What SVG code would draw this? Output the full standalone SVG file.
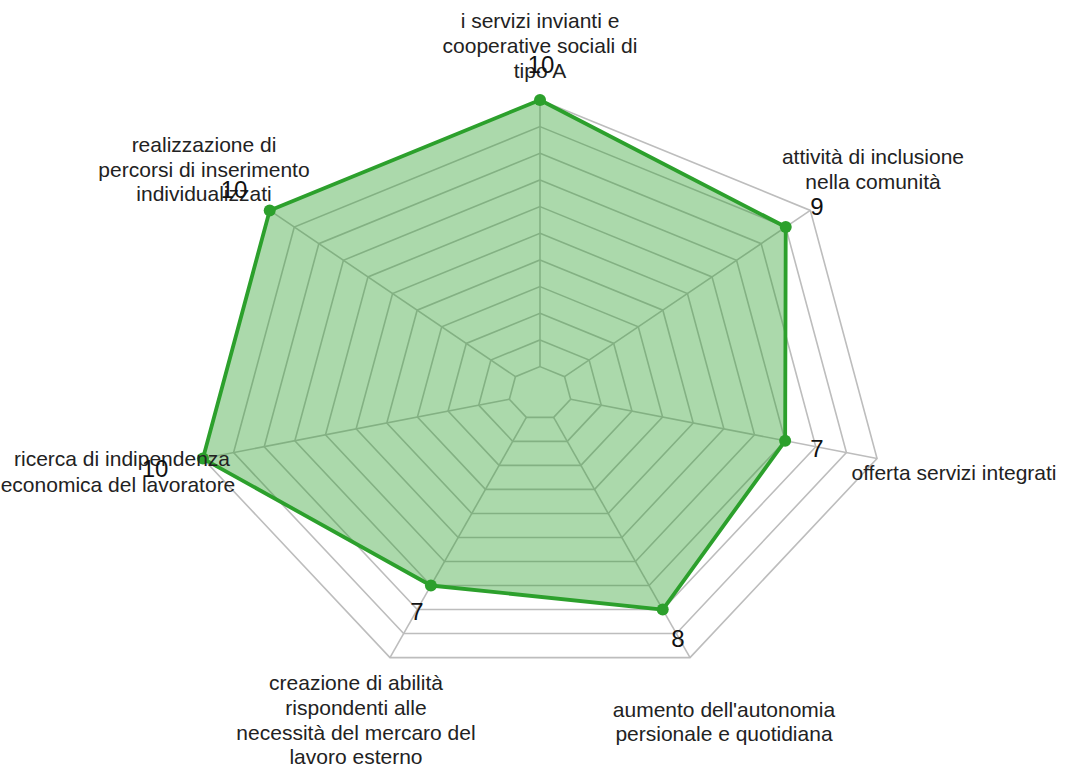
<svg xmlns="http://www.w3.org/2000/svg" width="1068" height="772" viewBox="0 0 1068 772">
<style>
.ring{fill:none;stroke:#bdbdbd;stroke-width:1.6}
.spoke{stroke:#bdbdbd;stroke-width:1.6}
.area{fill:#2ca02c;fill-opacity:0.4;stroke:#2ca02c;stroke-width:3.8;stroke-linejoin:round}
.pt{fill:#2ca02c}
.lbl{font-family:"Liberation Sans",Arial,sans-serif;font-size:21px;fill:#222;text-anchor:middle}
.tick{font-family:"Liberation Sans",Arial,sans-serif;font-size:24px;fill:#111;text-anchor:middle}
</style>
<rect width="1068" height="772" fill="#fff"/>
<g id="grid">
<polygon class="ring" points="540,366.63 564.57,376.67 570.64,399.23 553.64,417.33 526.36,417.33 509.36,399.23 515.43,376.67"/>
<polygon class="ring" points="540,339.97 589.15,360.05 601.28,405.17 567.27,441.35 512.73,441.35 478.72,405.17 490.85,360.05"/>
<polygon class="ring" points="540,313.3 613.72,343.42 631.93,411.10 580.91,465.38 499.09,465.38 448.07,411.10 466.28,343.42"/>
<polygon class="ring" points="540,286.63 638.29,326.79 662.57,417.04 594.55,489.40 485.45,489.40 417.43,417.04 441.71,326.79"/>
<polygon class="ring" points="540,259.97 662.87,310.17 693.21,422.97 608.19,513.43 471.82,513.43 386.79,422.97 417.14,310.17"/>
<polygon class="ring" points="540,233.3 687.44,293.54 723.85,428.90 621.82,537.46 458.18,537.46 356.15,428.90 392.56,293.54"/>
<polygon class="ring" points="540,206.63 712.01,276.91 754.49,434.84 635.46,561.48 444.54,561.48 325.51,434.84 367.99,276.91"/>
<polygon class="ring" points="540,179.96 736.58,260.28 785.14,440.77 649.10,585.51 430.90,585.51 294.86,440.77 343.42,260.28"/>
<polygon class="ring" points="540,153.3 761.16,243.66 815.78,446.71 662.73,609.53 417.27,609.53 264.22,446.71 318.84,243.66"/>
<polygon class="ring" points="540,126.63 785.73,227.03 846.42,452.64 676.37,633.56 403.63,633.56 233.58,452.64 294.27,227.03"/>
<polygon class="ring" points="540,99.96 810.30,210.40 877.06,458.57 690.01,657.59 389.99,657.59 202.94,458.57 269.70,210.40"/>
</g>
<g id="connectors">
<line class="spoke" x1="540" y1="366.63" x2="540" y2="99.96"/>
<line class="spoke" x1="564.57" y1="376.67" x2="810.30" y2="210.40"/>
<line class="spoke" x1="570.64" y1="399.23" x2="877.06" y2="458.57"/>
<line class="spoke" x1="553.64" y1="417.33" x2="690.01" y2="657.59"/>
<line class="spoke" x1="526.36" y1="417.33" x2="389.99" y2="657.59"/>
<line class="spoke" x1="509.36" y1="399.23" x2="202.94" y2="458.57"/>
<line class="spoke" x1="515.43" y1="376.67" x2="269.70" y2="210.40"/>
</g>
<g id="data">
<polygon class="area" points="540,99.96 785.73,227.03 785.14,440.77 662.73,609.53 430.90,585.51 202.94,458.57 269.70,210.40"/>
<circle class="pt" cx="540" cy="99.96" r="6"/>
<circle class="pt" cx="785.73" cy="227.03" r="6"/>
<circle class="pt" cx="785.14" cy="440.77" r="6"/>
<circle class="pt" cx="662.73" cy="609.53" r="6"/>
<circle class="pt" cx="430.90" cy="585.51" r="6"/>
<circle class="pt" cx="202.94" cy="458.57" r="6"/>
<circle class="pt" cx="269.70" cy="210.40" r="6"/>
</g>
<g id="axis-0">
<text class="lbl" x="540" y="28">i servizi invianti e</text>
<text class="lbl" x="540" y="53">cooperative sociali di</text>
<text class="lbl" x="540" y="78">tipo A</text>
<text class="tick" x="541" y="73">10</text>
</g>
<g id="axis-1">
<text class="lbl" x="873" y="164">attività di inclusione</text>
<text class="lbl" x="873" y="189">nella comunità</text>
<text class="tick" x="817" y="215">9</text>
</g>
<g id="axis-2">
<text class="lbl" x="954" y="480">offerta servizi integrati</text>
<text class="tick" x="817" y="457">7</text>
</g>
<g id="axis-3">
<text class="lbl" x="724" y="717">aumento dell'autonomia</text>
<text class="lbl" x="724" y="741">persionale e quotidiana</text>
<text class="tick" x="678" y="647">8</text>
</g>
<g id="axis-4">
<text class="lbl" x="356" y="690">creazione di abilità</text>
<text class="lbl" x="356" y="715">rispondenti alle</text>
<text class="lbl" x="356" y="740">necessità del mercaro del</text>
<text class="lbl" x="356" y="764">lavoro esterno</text>
<text class="tick" x="417" y="620">7</text>
</g>
<g id="axis-5">
<text class="lbl" x="122" y="466">ricerca di indipendenza</text>
<text class="lbl" x="118" y="492">economica del lavoratore</text>
<text class="tick" x="155" y="477">10</text>
</g>
<g id="axis-6">
<text class="lbl" x="204" y="152">realizzazione di</text>
<text class="lbl" x="204" y="177">percorsi di inserimento</text>
<text class="lbl" x="204" y="201">individualizzati</text>
<text class="tick" x="234" y="198">10</text>
</g>
</svg>
